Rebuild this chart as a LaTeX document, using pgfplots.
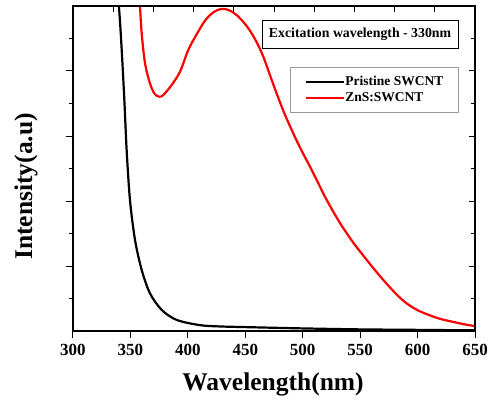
\documentclass[border=0pt]{standalone}
\usepackage{pgfplots}
\pgfplotsset{compat=1.18}
\usepackage{fontspec}
\setmainfont{Liberation Serif}
\begin{document}
\begin{tikzpicture}
\path[use as bounding box] (-73pt,-71pt) rectangle (421pt,331pt);
\begin{axis}[
  at={(0pt,0pt)}, anchor=south west,
  scale only axis, width=402pt, height=325pt,
  xmin=300, xmax=650, ymin=0, ymax=10,
  xtick={300,350,...,650},
  xtick pos=left, ytick pos=left,
  ytick={2,4,6,8}, minor ytick={1,3,5,7,9},
  yticklabels={},
  tick align=outside,
  major tick length=7pt, minor tick length=3.5pt,
  tick style={line width=1pt, black},
  axis line style={line width=1.3pt},
  /pgf/number format/assume math mode=true,
  tick label style={font=\bfseries\fontsize{17}{17}\selectfont},
  xticklabel style={yshift=-3pt},
  xlabel={Wavelength(nm)},
  ylabel={Intensity(a.u)},
  label style={font=\bfseries\fontsize{25.5}{25.5}\selectfont},
  xlabel style={at={(axis description cs:0.4975,-0.166)}, anchor=center},
  ylabel style={at={(axis description cs:-0.117,0.445)}, anchor=center, rotate=0},
  legend style={at={(rel axis cs:0.540,0.812)}, anchor=north west,
    draw=gray!80, line width=0.8pt, fill=white,
    font=\bfseries\fontsize{13.5}{13.5}\selectfont,
    inner xsep=15pt, inner ysep=7pt,
    nodes={inner xsep=0pt, inner ysep=2pt, anchor=west},
    row sep=1.5pt},
  legend cell align=left,
  legend image code/.code={\draw[#1, line width=2pt] (0pt,0pt) -- (38pt,0pt);},
]
\addplot[black, line width=2.2pt, smooth, tension=0.5] coordinates {
(335,12) (340,9.98) (342.4,8.65) (344.7,7.11) (346.7,5.57) (349.6,4.03)
(354,2.80) (359.8,1.88) (367,1.16) (377.2,0.65) (390.3,0.34) (410.6,0.18)
(428,0.14) (450,0.12) (500,0.08) (550,0.05) (600,0.035) (650,0.02)
};
\addlegendentry{Pristine SWCNT}
\addplot[red, line width=2.2pt, smooth, tension=0.55] coordinates {
(356,11) (358.3,9.98) (359.8,9.16) (362.7,8.24) (367,7.62) (371,7.30)
(375.1,7.21) (378.6,7.26) (385.9,7.57) (393.2,7.98) (400.4,8.65) (408,9.15)
(415,9.55) (422,9.80) (429,9.91) (436,9.87) (442.5,9.72) (449,9.48) (454.1,9.24)
(460,8.88) (465.7,8.44) (471,7.92) (477.3,7.31)
(484,6.70) (491.8,6.08) (499,5.55) (506.3,5.06) (513.5,4.55) (520.9,4.03) (532.5,3.32) (544,2.72) (551,2.40) (558.6,2.06)
(567,1.70) (576,1.34) (583,1.08) (590.5,0.85) (600,0.64) (610.8,0.48) (620,0.37) (631.1,0.28) (640,0.21) (650,0.15)
};
\addlegendentry{ZnS:SWCNT}
\node[draw=black, line width=0.8pt, fill=white, minimum width=196pt, minimum height=28pt,
  font=\bfseries\fontsize{13.8}{13.8}\selectfont]
  at (rel axis cs:0.714,0.914) {Excitation wavelength - 330nm};
\end{axis}
\begin{axis}[
  at={(0pt,0pt)}, anchor=south west,
  scale only axis, width=402pt, height=325pt,
  xmin=0, xmax=10, ymin=0, ymax=10,
  xtick={1,...,9}, xtick pos=right,
  ytick={2,4,6,8}, minor ytick={1,3,5,7,9}, ytick pos=right,
  xticklabels={}, yticklabels={},
  tick align=inside,
  major tick length=6pt, minor tick length=4pt,
  tick style={line width=1pt, black},
  axis line style={line width=1.3pt},
]
\end{axis}
\end{tikzpicture}
\end{document}
